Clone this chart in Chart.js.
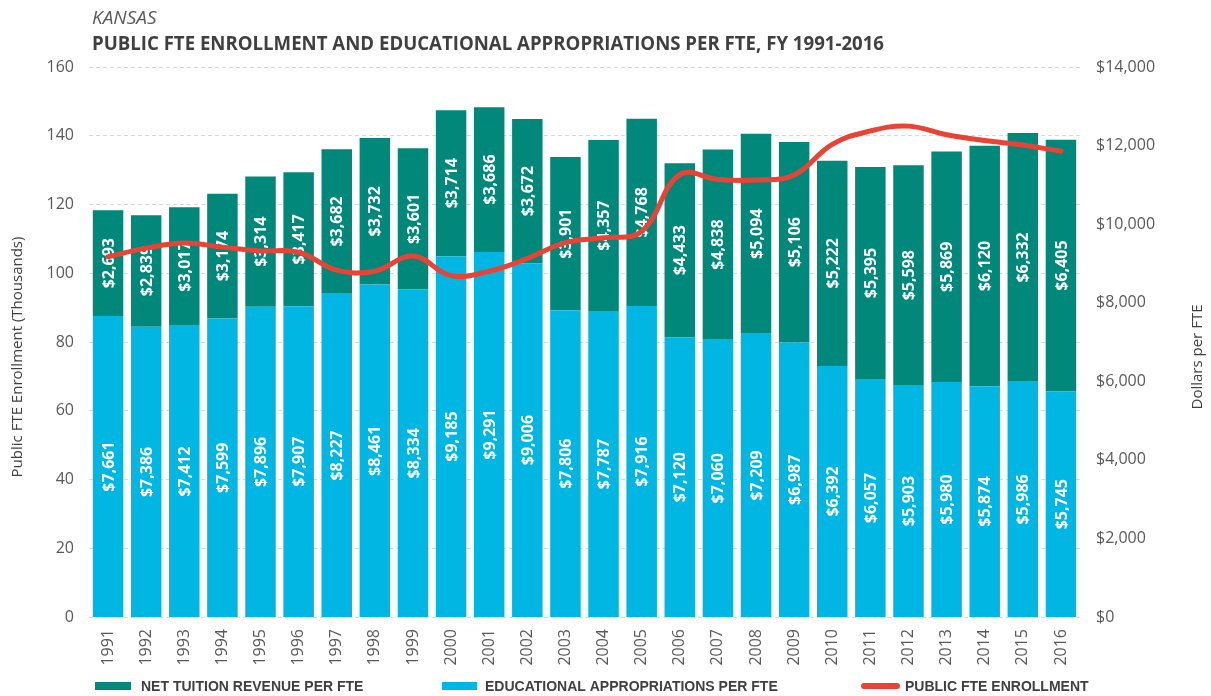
<!DOCTYPE html>
<html>
<head>
<meta charset="utf-8">
<script src="https://cdn.jsdelivr.net/npm/chart.js@4.4.1/dist/chart.umd.min.js"></script>
<style>
html,body{margin:0;padding:0;background:#fff;}
#wrap{position:relative;width:1211px;height:696px;}
</style>
</head>
<body>
<div id="wrap"><canvas id="c" width="1211" height="696"></canvas></div>
<script>
// ---- data ----
const years = ['1991','1992','1993','1994','1995','1996','1997','1998','1999','2000','2001','2002','2003','2004','2005','2006','2007','2008','2009','2010','2011','2012','2013','2014','2015','2016'];
const approp = [7661,7386,7412,7599,7896,7907,8227,8461,8334,9185,9291,9006,7806,7787,7916,7120,7060,7209,6987,6392,6057,5903,5980,5874,5986,5745];
const tuition = [2693,2839,3017,3174,3314,3417,3682,3732,3601,3714,3686,3672,3901,4357,4768,4433,4838,5094,5106,5222,5395,5598,5869,6120,6332,6405];
const enrollment = [104.8,107.3,108.8,107.6,106.5,106.1,100.9,100.6,105.0,99.3,100.6,104.3,108.9,110.3,112.2,128.7,127.3,127.1,128.6,137.5,141.4,142.8,140.3,138.6,137.3,135.5];
const titleState = 'KANSAS';
const titleMain = 'PUBLIC FTE ENROLLMENT AND EDUCATIONAL APPROPRIATIONS PER FTE, FY 1991-2016';
const leftTitle = 'Public FTE Enrollment (Thousands)';
const rightTitle = 'Dollars per FTE';
const legendLabels = ['NET TUITION REVENUE PER FTE','EDUCATIONAL APPROPRIATIONS PER FTE','PUBLIC FTE ENROLLMENT'];

const TEAL = '#00897B';
const CYAN = '#00B6E2';
const RED = '#EA4335';
const TICK = '#595959';
const DARK = '#404040';

const fmtDollar = v => '$' + Number(v).toLocaleString('en-US');

const barLabels = {
  id: 'barLabels',
  afterDatasetDraw(chart, args) {
    const ds = chart.data.datasets[args.index];
    if (ds.type !== 'bar') return;
    const ctx = chart.ctx;
    ctx.save();
    ctx.font = 'bold 16px "Open Sans"';
    ctx.fillStyle = '#ffffff';
    ctx.textAlign = 'center';
    ctx.textBaseline = 'middle';
    args.meta.data.forEach((el, i) => {
      const p = el.getProps(['x', 'y', 'base'], true);
      const cy = (p.y + p.base) / 2;
      ctx.save();
      ctx.translate(p.x + 1, cy);
      ctx.rotate(-Math.PI / 2);
      ctx.fillText(fmtDollar(ds.data[i]), 0, 0);
      ctx.restore();
    });
    ctx.restore();
  }
};

function fitText(ctx, text, x, y, maxW) {
  const w = ctx.measureText(text).width;
  if (w > maxW) {
    ctx.save();
    ctx.translate(x, y);
    ctx.scale(maxW / w, 1);
    ctx.fillText(text, 0, 0);
    ctx.restore();
  } else {
    ctx.fillText(text, x, y);
  }
}

const decorations = {
  id: 'decorations',
  afterDraw(chart) {
    const ctx = chart.ctx;
    ctx.save();
    // titles
    ctx.textAlign = 'left';
    ctx.textBaseline = 'alphabetic';
    ctx.fillStyle = TICK;
    ctx.font = 'italic 19px "Open Sans"';
    fitText(ctx, titleState, 92, 24, 70);
    ctx.fillStyle = '#404040';
    ctx.font = 'bold 19px "Open Sans"';
    fitText(ctx, titleMain, 92, 50, 792);

    // axis titles
    ctx.fillStyle = DARK;
    ctx.font = '15px "Open Sans"';
    ctx.textAlign = 'center';
    ctx.textBaseline = 'middle';
    ctx.save();
    ctx.translate(18, 357);
    ctx.rotate(-Math.PI / 2);
    ctx.fillText(leftTitle, 0, 0);
    ctx.restore();
    ctx.save();
    ctx.translate(1198, 357);
    ctx.rotate(-Math.PI / 2);
    ctx.fillText(rightTitle, 0, 0);
    ctx.restore();

    // legend
    ctx.textAlign = 'left';
    ctx.textBaseline = 'alphabetic';
    ctx.font = 'bold 14px "Liberation Sans"';
    ctx.fillStyle = TEAL;
    ctx.fillRect(95, 682, 36, 8);
    ctx.fillStyle = DARK;
    fitText(ctx, legendLabels[0], 141, 691, 231);
    ctx.fillStyle = CYAN;
    ctx.fillRect(442, 682, 35, 8);
    ctx.fillStyle = DARK;
    fitText(ctx, legendLabels[1], 485, 691, 306);
    ctx.strokeStyle = RED;
    ctx.lineWidth = 6;
    ctx.lineCap = 'round';
    ctx.beginPath();
    ctx.moveTo(864, 686);
    ctx.lineTo(897, 686);
    ctx.stroke();
    ctx.fillStyle = DARK;
    fitText(ctx, legendLabels[2], 905, 691, 191);
    ctx.restore();
  }
};

new Chart(document.getElementById('c'), {
  type: 'bar',
  data: {
    labels: years,
    datasets: [
      {
        type: 'line',
        label: legendLabels[2],
        data: enrollment,
        yAxisID: 'y',
        borderColor: RED,
        backgroundColor: RED,
        borderWidth: 5,
        tension: 0.4,
        pointRadius: 0,
        borderCapStyle: 'round',
        order: 0
      },
      {
        type: 'bar',
        label: legendLabels[1],
        data: approp,
        yAxisID: 'y1',
        backgroundColor: CYAN,
        barPercentage: 0.8,
        categoryPercentage: 1.0,
        order: 1
      },
      {
        type: 'bar',
        label: legendLabels[0],
        data: tuition,
        yAxisID: 'y1',
        backgroundColor: TEAL,
        barPercentage: 0.8,
        categoryPercentage: 1.0,
        order: 2
      }
    ]
  },
  options: {
    responsive: false,
    animation: false,
    devicePixelRatio: 1,
    layout: { padding: { top: 67, left: 0, right: 0, bottom: 0 } },
    plugins: {
      legend: { display: false },
      title: { display: false },
      tooltip: { enabled: false }
    },
    scales: {
      x: {
        stacked: true,
        grid: { display: false, drawTicks: false },
        border: { display: false },
        ticks: {
          color: TICK,
          font: { family: 'Open Sans', size: 16 },
          minRotation: 90,
          maxRotation: 90,
          padding: 12,
          autoSkip: false
        },
        afterFit(s) { s.height = 79; }
      },
      y: {
        position: 'left',
        min: 0,
        max: 160,
        grid: { color: '#d9d9d9', lineWidth: 1, drawTicks: false },
        border: { display: false, dash: [4, 3] },
        ticks: {
          stepSize: 20,
          color: TICK,
          font: { family: 'Open Sans', size: 16 },
          padding: 15
        },
        afterFit(s) { s.width = 89; }
      },
      y1: {
        position: 'right',
        stacked: true,
        min: 0,
        max: 14000,
        grid: { display: false, drawTicks: false },
        border: { display: false },
        ticks: {
          stepSize: 2000,
          color: TICK,
          font: { family: 'Open Sans', size: 16 },
          padding: 16,
          callback: v => fmtDollar(v)
        },
        afterFit(s) { s.width = 131; }
      }
    }
  },
  plugins: [barLabels, decorations]
});
</script>
</body>
</html>
